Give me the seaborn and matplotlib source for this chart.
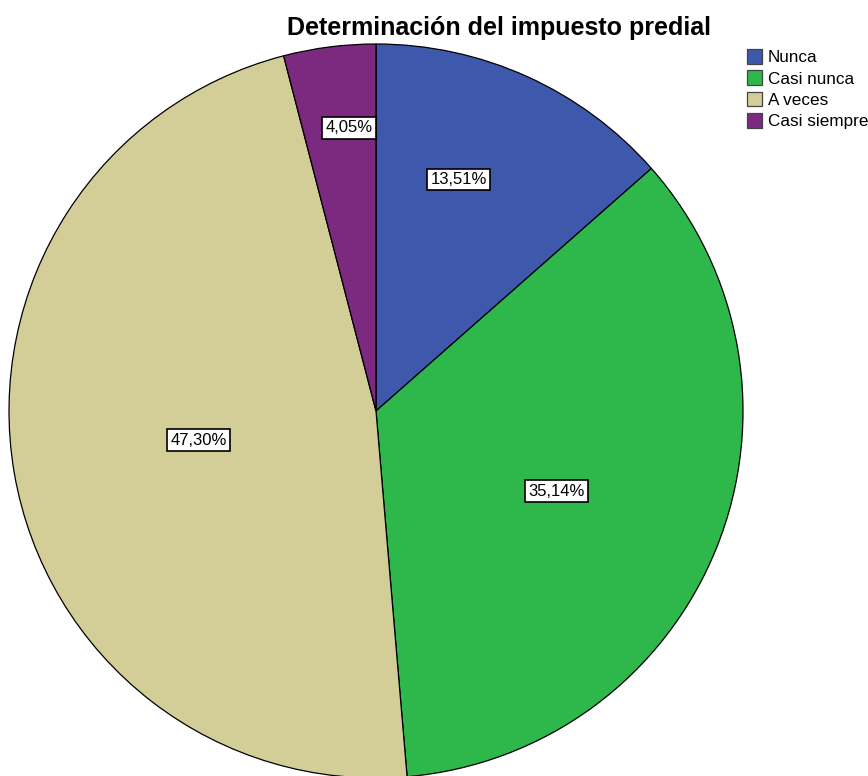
import numpy as np
import matplotlib
matplotlib.use("Agg")
import matplotlib.pyplot as plt
import seaborn as sns

categorias = ['Nunca', 'Casi nunca', 'A veces', 'Casi siempre']
porcentajes = [13.51, 35.14, 47.30, 4.05]
etiquetas = ['13,51%', '35,14%', '47,30%', '4,05%']
colores = ['#3e58ac', '#2eb84b', '#d3ce97', '#7b2a7f']

sns.set_theme(style="white")
plt.rcParams['font.family'] = ['Liberation Sans', 'DejaVu Sans']
plt.rcParams['text.color'] = 'black'

fig = plt.figure(figsize=(8.68, 7.76), dpi=100)
ax = fig.add_axes([9 / 868, -2 / 776, 734 / 868, 734 / 776])

wedges, _ = ax.pie(porcentajes, colors=sns.color_palette(colores), startangle=90,
                   counterclock=False, radius=1,
                   wedgeprops=dict(edgecolor='black', linewidth=0.9))
ax.set_xlim(-1, 1)
ax.set_ylim(-1, 1)
ax.set_aspect('auto')
ax.axis('off')

# posición de cada etiqueta: radio y pequeño giro respecto al centro del sector
radios = [0.67, 0.537, 0.489, 0.775]
giros = [4.6, -2.1, -0.4, -1.9]
for w, txt, r, g in zip(wedges, etiquetas, radios, giros):
    ang = np.deg2rad((w.theta1 + w.theta2) / 2 + g)
    ax.text(r * np.cos(ang), r * np.sin(ang), txt, ha='center', va='center',
            fontsize=12, color='black',
            bbox=dict(boxstyle='square,pad=0.2', facecolor='white',
                      edgecolor='black', linewidth=1.2))

fig.text(499 / 868, 1 - 35 / 776, 'Determinación del impuesto predial',
         ha='center', va='baseline', fontsize=18, fontweight='bold', color='black')

fig.legend(wedges, categorias, loc='upper left', bbox_to_anchor=(747 / 868, 1 - 49 / 776),
           frameon=False, fontsize=12.3, handlelength=0.9, handleheight=0.95,
           handletextpad=0.3, labelspacing=0.3, borderpad=0, borderaxespad=0)
for h in fig.legends[0].legend_handles:
    h.set_edgecolor('#444444')

fig.savefig('out.png', dpi=100)
